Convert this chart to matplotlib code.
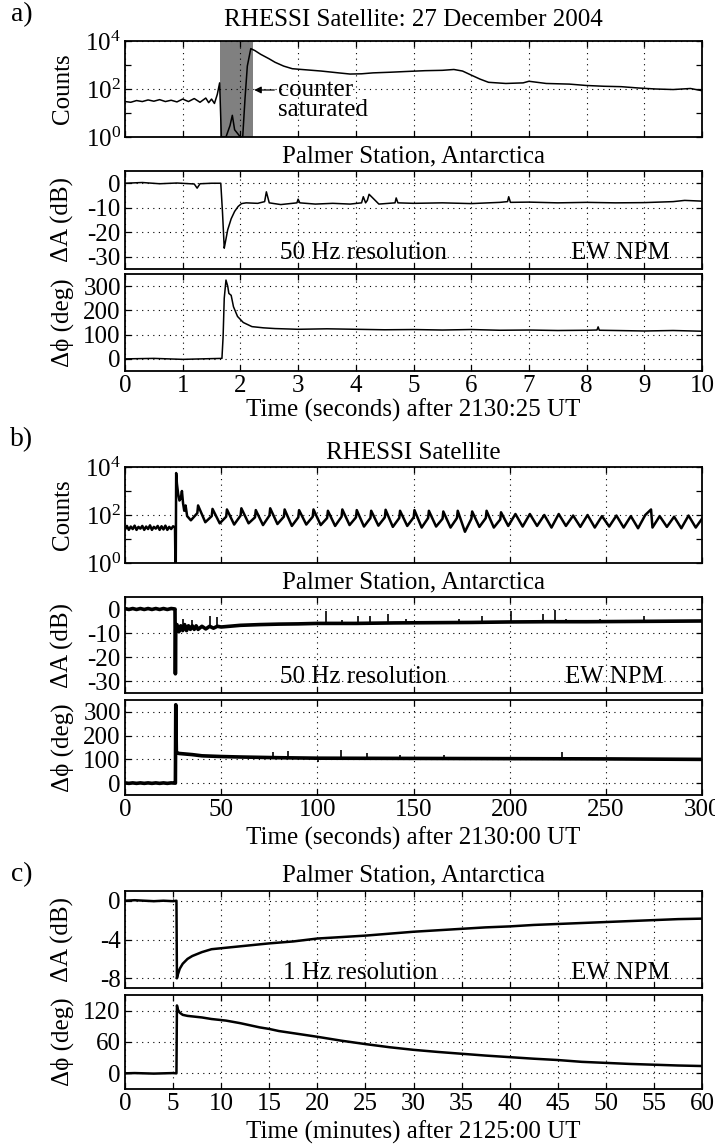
import numpy as np
import matplotlib
matplotlib.use("Agg")
import matplotlib.pyplot as plt
import matplotlib.ticker as mticker

plt.rcParams["font.family"] = ["Liberation Serif", "DejaVu Serif"]
plt.rcParams["mathtext.fontset"] = "custom"
plt.rcParams["mathtext.rm"] = "Liberation Serif"
plt.rcParams["mathtext.it"] = "Liberation Serif:italic"
plt.rcParams["axes.unicode_minus"] = False

# ---------------- panel a: 10 s after 2130:25 UT ----------------
a_cnt_t = [0.0, 0.1, 0.2, 0.3, 0.4, 0.5, 0.6, 0.7, 0.8, 0.9, 1.0, 1.1, 1.2, 1.3,
           1.4, 1.45, 1.5, 1.55, 1.6, 1.64, 1.67, 1.75, 1.82, 1.86, 1.9, 2.0,
           2.04, 2.08, 2.12, 2.18, 2.25, 2.35, 2.5, 2.6, 2.75, 2.9, 3.1, 3.4,
           3.7, 3.9, 4.1, 4.3, 4.6, 4.9, 5.2, 5.5, 5.7, 5.85, 6.0, 6.15, 6.3,
           6.6, 6.9, 7.0, 7.3, 7.7, 8.0, 8.3, 8.6, 8.9, 9.2, 9.5, 9.8, 10.0]
a_cnt_v = [30, 28, 33, 30, 35, 31, 36, 30, 34, 29, 38, 30, 40, 28,
           42, 27, 38, 25, 60, 180, 1, 1, 3, 8, 2, 1,
           1, 40, 900, 4800, 4000, 2800, 1800, 1300, 900, 700, 640, 560,
           470, 420, 430, 470, 500, 540, 580, 600, 650, 560, 380, 260, 190,
           170, 180, 210, 170, 160, 140, 130, 125, 110, 100, 95, 105, 85]
a_shade = (1.65, 2.22)

a_dA_t = [0, 0.3, 0.6, 0.9, 1.2, 1.25, 1.3, 1.5, 1.66, 1.69, 1.72, 1.74, 1.78,
          1.84, 1.9, 1.96, 2.02, 2.1, 2.3, 2.42, 2.45, 2.5, 2.7, 2.98, 3.0,
          3.03, 3.3, 3.6, 3.9, 4.1, 4.13, 4.17, 4.2, 4.23, 4.4, 4.68, 4.7,
          4.73, 5.0, 5.5, 6.0, 6.5, 6.63, 6.65, 6.68, 7.0, 7.5, 8.0, 8.5,
          9.0, 9.5, 9.7, 10.0]
a_dA_v = [0, 0.3, -0.2, 0.1, -0.3, -2, -0.2, 0, 0, -12, -26.5, -24, -19,
          -14.5, -11.5, -9.5, -8.3, -8, -8.2, -7.5, -3.5, -8, -8.7, -8, -6.5,
          -8, -8.5, -8.2, -8.5, -8, -5.5, -8, -7, -4.5, -8.5, -8, -6,
          -8, -8.2, -8, -8.3, -7.8, -7.5, -5.5, -7.8, -7.7, -8, -7.8, -8,
          -7.9, -7.5, -7, -7.3]

a_dP_t = [0, 0.5, 1.0, 1.5, 1.68, 1.7, 1.72, 1.75, 1.78, 1.8, 1.84, 1.88,
          1.95, 2.05, 2.2, 2.4, 2.6, 3.0, 3.5, 4.0, 4.5, 5.0, 5.5, 6.0, 6.5,
          7.0, 7.5, 8.0, 8.18, 8.2, 8.22, 8.5, 9.0, 9.5, 10.0]
a_dP_v = [0, 2, -2, 1, 2, 90, 250, 325, 300, 270, 262, 215,
          175, 150, 133, 128, 125, 122, 124, 122, 120, 121, 119, 121, 118,
          119, 117, 118, 119, 132, 118, 117, 115, 117, 114]

# ---------------- panel b: 300 s after 2130:00 UT ----------------
b_cnt_t = [0, 1, 2, 3, 4, 5, 6, 7, 8, 9, 10, 11, 12, 13, 14, 15, 16, 17, 18,
           19, 20, 21, 22, 23, 24, 25, 26.0, 26.2, 26.4, 26.6, 27.0, 27.6,
           28.3, 29.0, 29.6, 30.2, 30.8, 31.5, 32.3, 34.25, 37.6, 38, 41.75,
           45.1, 45.5, 49.25, 52.6, 53, 56.75, 60.1, 60.5, 64.25, 67.6, 68,
           71.75, 75.1, 75.5, 79.25, 82.6, 83, 86.75, 90.1, 90.5, 94.25, 97.6,
           98, 101.75, 105.1, 105.5, 109.25, 112.6, 113, 116.75, 120.1, 120.5,
           124.25, 127.6, 128, 131.75, 135.1, 135.5, 139.25, 142.6, 143,
           146.75, 150.1, 150.5, 154.25, 157.6, 158, 161.75, 165.1, 165.5,
           169.25, 172.6, 173, 176.75, 180.1, 180.5, 184.25, 187.6, 188,
           191.75, 195.1, 195.5, 199.25, 203, 206.75, 210.5, 214.25, 218,
           221.75, 225.5, 229.25, 233, 236.75, 240.5, 244.25, 248, 251.75,
           255.5, 259.25, 263, 266.75, 270.5, 273.5, 274.25, 278, 281.75,
           285.5, 289.25, 293, 296.75, 300]
b_cnt_v = [25, 35, 24, 33, 26, 36, 24, 32, 27, 35, 24, 33, 26, 37, 24, 32, 27,
           35, 24, 34, 25, 36, 24, 32, 26, 34, 30, 1, 1, 5600, 2000, 800,
           400, 500, 1000, 300, 150, 250, 90, 60, 120, 250, 50,
           90, 180, 45, 85, 170, 40, 95, 190, 45, 80, 160,
           38, 95, 190, 42, 85, 170, 35, 80, 160, 40, 85,
           170, 38, 75, 150, 35, 85, 170, 38, 80, 160,
           33, 75, 150, 36, 80, 165, 32, 75, 150,
           35, 80, 160, 30, 75, 150, 33, 70, 140,
           30, 75, 150, 20, 70, 140, 32, 75, 150,
           30, 65, 130, 35, 110, 33, 110, 35, 100,
           30, 110, 35, 95, 32, 100, 30, 90, 33,
           95, 30, 90, 28, 100, 170, 30, 90, 32,
           85, 28, 95, 30, 70]

b_dA_t = [0, 2, 4, 6, 8, 10, 12, 14, 16, 18, 20, 22, 24, 26.0, 26.2, 26.4,
          27, 28, 29, 30, 31, 32, 33, 34, 35, 36, 37, 38, 40, 42, 44, 46, 48,
          50, 60, 70, 80, 90, 100, 120, 140, 160, 180, 200, 220, 240, 260,
          280, 300]
b_dA_v = [0.2, -0.2, 0.2, -0.2, 0.2, -0.2, 0.2, -0.2, 0.2, -0.2, 0.2, -0.2,
          0.2, 0, -27, -8.5, -6.5, -9.5, -7, -9, -6.5, -9, -7, -8.5, -7,
          -8.5, -7, -8.5, -7.2, -8.3, -7.2, -8, -7.2, -7.5, -6.8, -6.5, -6.3,
          -6.2, -6, -6, -5.8, -5.7, -5.6, -5.4, -5.3, -5.3, -5.2, -5.1, -5]
b_dA_spike_t = [30, 35, 44, 48, 104.7, 113, 121, 127.6, 136.8, 146, 173.5,
                185.5, 200.9, 217.5, 223.5, 229.3, 247, 269.8]
b_dA_spike_v = [-4, -4.5, -3, -3.5, -0.7, -4.5, -3, -3, -2, -4, -4, -3, -1,
                -2, -0.5, -4, -4, -3]

b_dP_t = [0, 2, 4, 6, 8, 10, 12, 14, 16, 18, 20, 22, 24, 26.0, 26.2, 26.4,
          26.7, 28, 35, 40, 50, 60, 80, 100, 150, 200, 250, 300]
b_dP_v = [1, -1, 1, -1, 1, -1, 1, -1, 1, -1, 1, -1, 1, 0, 0, 330,
          130, 125, 120, 115, 112, 110, 107, 105, 104, 103, 102, 100]
b_dP_spike_t = [76.8, 85, 100.5, 112.5, 126, 143, 166, 227]
b_dP_spike_v = [132, 135, 90, 138, 125, 120, 120, 130]

# ---------------- panel c: 60 min after 2125:00 UT ----------------
c_dA_t = [0, 1, 2, 3, 4, 5, 5.35, 5.4, 5.5, 5.7, 6.0, 6.5, 7, 8, 9, 10, 11,
          12, 13, 15, 17.5, 20, 22.5, 25, 27.5, 30, 32.5, 35, 37.5, 40, 42.5,
          45, 47.5, 50, 52.5, 55, 57.5, 60]
c_dA_v = [0, 0.05, 0, -0.05, 0, -0.05, 0, -8, -7.6, -7.0, -6.5, -6.0, -5.7,
          -5.3, -5.0, -4.9, -4.8, -4.7, -4.6, -4.4, -4.2, -3.9, -3.75, -3.6,
          -3.4, -3.2, -3.05, -2.9, -2.75, -2.65, -2.5, -2.4, -2.3, -2.2, -2.1,
          -2.0, -1.9, -1.85]

c_dP_t = [0, 1, 2, 3, 4, 5, 5.35, 5.4, 5.5, 5.7, 6.0, 6.5, 7, 8, 9, 10.5, 12,
          14, 15, 16, 18, 20, 22.5, 25, 27.5, 30, 32.5, 35, 37.5, 40, 42.5,
          45, 47.5, 50, 52.5, 55, 57.5, 60]
c_dP_v = [0, 0.5, 0, -0.5, 0, 0.5, 0, 130, 122, 116, 112, 110, 109, 107, 104,
          101, 96, 88, 85, 81, 75.5, 70, 62.5, 56, 50, 45, 41, 37.5, 34, 31,
          28, 25.5, 22, 20, 18, 16.5, 15, 14]

# ---------------- layout helpers ----------------
W, H = 715, 1146
L, R = 125, 702
FS = 18


def add_ax(fig, top, bottom):
    return fig.add_axes([L / W, 1 - bottom / H, (R - L) / W, (bottom - top) / H])


def style(ax, xticks, show_xlabels):
    ax.set_xlim(xticks[0], xticks[-1])
    ax.set_xticks(xticks)
    if not show_xlabels:
        ax.set_xticklabels([])
    ax.tick_params(which="both", direction="in", top=True, right=True,
                   length=4, width=0.9, labelsize=FS, pad=3)
    ax.grid(True, which="major", color="k", linestyle=(0, (1, 4)), lw=0.8)
    for sp in ax.spines.values():
        sp.set_linewidth(1.3)
    ax.yaxis.set_label_coords((74 - L) / (R - L), 0.5)


def counts_ax(ax, ylabel="Counts"):
    ax.set_yscale("log")
    ax.set_ylim(1, 1e4)
    ax.yaxis.set_major_locator(mticker.FixedLocator([1, 100, 1e4]))
    ax.yaxis.set_minor_locator(mticker.FixedLocator([10, 1000]))
    ax.yaxis.set_minor_formatter(mticker.NullFormatter())
    ax.set_ylabel(ylabel, fontsize=FS)


def ftext(fig, x, y, s, size=FS):
    fig.text(x / W, 1 - y / H, s, ha="center", va="center", fontsize=size)


def corner_notes(ax, left_text, xl, xr, yf):
    ax.text(xl, yf, left_text, transform=ax.transAxes, fontsize=FS,
            ha="center", va="center")
    ax.text(xr, yf, "EW NPM", transform=ax.transAxes, fontsize=FS,
            ha="center", va="center")


fig = plt.figure(figsize=(W / 100, H / 100), dpi=100)
xc = (L + R) / 2
dA_label = "ΔA (dB)"
dP_label = "Δϕ (deg)"

# ---- a ----
xa = list(range(0, 11))
ax = add_ax(fig, 41, 137)
ax.axvspan(*a_shade, color="0.5", lw=0, zorder=1)
ax.plot(a_cnt_t, a_cnt_v, color="k", lw=1.1, zorder=3)
counts_ax(ax)
style(ax, xa, False)
ax.annotate("counter", xy=(2.24, 91), xytext=(2.66, 91), fontsize=FS,
            ha="left", va="center",
            arrowprops=dict(arrowstyle="-|>", color="k", lw=0.9,
                            mutation_scale=10, shrinkA=1, shrinkB=0))
ax.text(2.66, 13, "saturated", fontsize=FS, ha="left", va="center")

ax = add_ax(fig, 171, 269)
ax.plot(a_dA_t, a_dA_v, color="k", lw=1.1)
ax.set_ylim(-35, 5)
ax.set_yticks([0, -10, -20, -30])
ax.set_ylabel(dA_label, fontsize=FS)
style(ax, xa, False)
corner_notes(ax, "50 Hz resolution", 0.413, 0.858, 0.16)

ax = add_ax(fig, 274, 371)
ax.plot(a_dP_t, a_dP_v, color="k", lw=1.1)
ax.set_ylim(-50, 350)
ax.set_yticks([0, 100, 200, 300])
ax.set_ylabel(dP_label, fontsize=FS)
style(ax, xa, True)

ftext(fig, 22, 15, "a)", size=20)
ftext(fig, xc, 20, "RHESSI Satellite: 27 December 2004")
ftext(fig, xc, 156, "Palmer Station, Antarctica")
ftext(fig, xc, 410, "Time (seconds) after 2130:25 UT")

# ---- b ----
xb = list(range(0, 301, 50))
ax = add_ax(fig, 467, 563)
ax.plot(b_cnt_t, b_cnt_v, color="k", lw=1.8)
counts_ax(ax)
style(ax, xb, False)

ax = add_ax(fig, 597, 693)
ax.plot(b_dA_t, b_dA_v, color="k", lw=2.6)
ax.vlines(b_dA_spike_t, [np.interp(t, b_dA_t, b_dA_v) for t in b_dA_spike_t],
          b_dA_spike_v, color="k", lw=1.2)
ax.set_ylim(-35, 5)
ax.set_yticks([0, -10, -20, -30])
ax.set_ylabel(dA_label, fontsize=FS)
style(ax, xb, False)
corner_notes(ax, "50 Hz resolution", 0.413, 0.849, 0.167)

ax = add_ax(fig, 700, 795)
ax.plot(b_dP_t, b_dP_v, color="k", lw=2.6)
ax.vlines(b_dP_spike_t, [np.interp(t, b_dP_t, b_dP_v) for t in b_dP_spike_t],
          b_dP_spike_v, color="k", lw=1.2)
ax.set_ylim(-50, 350)
ax.set_yticks([0, 100, 200, 300])
ax.set_ylabel(dP_label, fontsize=FS)
style(ax, xb, True)

ftext(fig, 22, 440, "b)", size=20)
ftext(fig, xc, 453, "RHESSI Satellite")
ftext(fig, xc, 582, "Palmer Station, Antarctica")
ftext(fig, xc, 838, "Time (seconds) after 2130:00 UT")

# ---- c ----
xcx = list(range(0, 61, 5))
ax = add_ax(fig, 891, 988)
ax.plot(c_dA_t, c_dA_v, color="k", lw=1.8)
ax.set_ylim(-9, 1)
ax.set_yticks([0, -4, -8])
ax.set_ylabel(dA_label, fontsize=FS)
style(ax, xcx, False)
corner_notes(ax, "1 Hz resolution", 0.408, 0.858, 0.156)

ax = add_ax(fig, 995, 1089)
ax.plot(c_dP_t, c_dP_v, color="k", lw=1.8)
ax.set_ylim(-30, 150)
ax.set_yticks([0, 60, 120])
ax.set_ylabel(dP_label, fontsize=FS)
style(ax, xcx, True)

ftext(fig, 22, 875, "c)", size=20)
ftext(fig, xc, 875, "Palmer Station, Antarctica")
ftext(fig, xc, 1132, "Time (minutes) after 2125:00 UT")

fig.savefig("out.png", dpi=100)
